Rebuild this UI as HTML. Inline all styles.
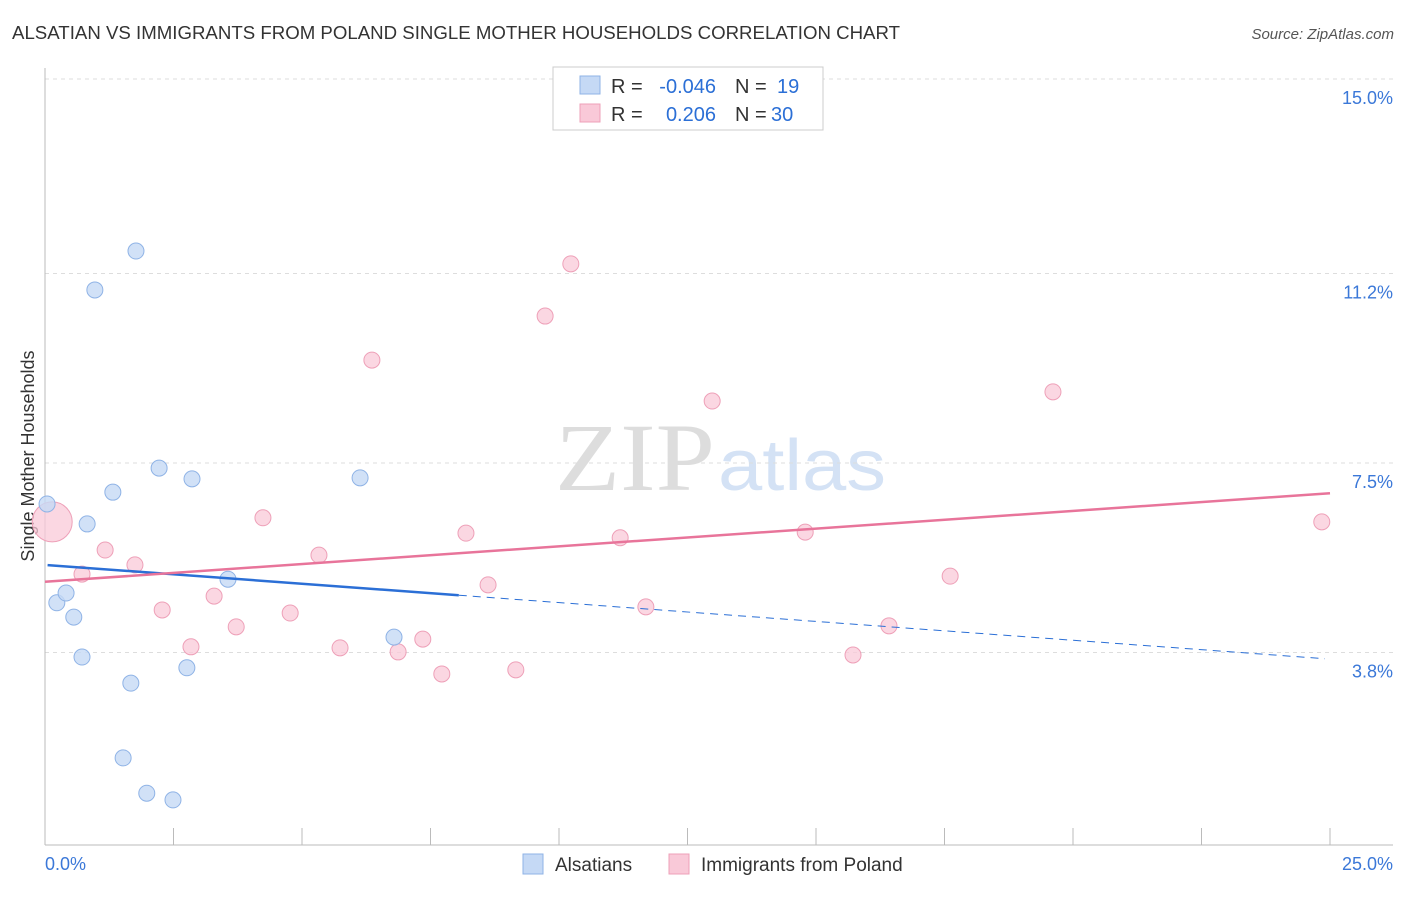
<!DOCTYPE html>
<html><head><meta charset="utf-8"><style>
body{margin:0;background:#fff;font-family:"Liberation Sans",sans-serif}
</style></head><body>
<svg id="c" width="1406" height="892" font-family="Liberation Sans, sans-serif">
<text x="12" y="39" font-size="18" fill="#333" textLength="888" lengthAdjust="spacingAndGlyphs">ALSATIAN VS IMMIGRANTS FROM POLAND SINGLE MOTHER HOUSEHOLDS CORRELATION CHART</text>
<text x="1394" y="39" font-size="15" fill="#555" text-anchor="end" font-style="italic">Source: ZipAtlas.com</text>
<text x="555" y="490" font-size="96" fill="#ddd" style="font-family:'Liberation Serif',serif" textLength="160" lengthAdjust="spacingAndGlyphs">ZIP</text>
<text x="718" y="490" font-size="72" fill="#d4e2f5" textLength="168" lengthAdjust="spacingAndGlyphs">atlas</text>
<text transform="translate(34,456) rotate(-90)" font-size="18" fill="#333" text-anchor="middle">Single Mother Households</text>
<g id="grid"></g><g id="marks"></g>
<g>
<rect x="553" y="67" width="270" height="63" fill="#fff" stroke="#ccc"/>
<rect x="580" y="76" width="20" height="18" fill="#c5d9f5" stroke="#8fb3e6"/>
<rect x="580" y="104" width="20" height="18" fill="#f9c9d8" stroke="#eea0b8"/>
<text x="611" y="93" font-size="20" fill="#333">R =</text>
<text x="716" y="93" font-size="20" fill="#2b6fd6" text-anchor="end">-0.046</text>
<text x="735" y="93" font-size="20" fill="#333">N =</text>
<text x="777" y="93" font-size="20" fill="#2b6fd6">19</text>
<text x="611" y="121" font-size="20" fill="#333">R =</text>
<text x="716" y="121" font-size="20" fill="#2b6fd6" text-anchor="end">0.206</text>
<text x="735" y="121" font-size="20" fill="#333">N =</text>
<text x="771" y="121" font-size="20" fill="#2b6fd6">30</text>
</g>
<g>
<rect x="523" y="854" width="20" height="20" fill="#c5d9f5" stroke="#8fb3e6"/>
<text x="555" y="871" font-size="19" fill="#333">Alsatians</text>
<rect x="669" y="854" width="20" height="20" fill="#f9c9d8" stroke="#eea0b8"/>
<text x="701" y="871" font-size="19" fill="#333">Immigrants from Poland</text>
</g>
</svg>
<script>
const xTicks=[0,2.5,5,7.5,10,12.5,15,17.5,20,22.5,25];
const yTicks=[15.0,11.2,7.5,3.8];
const yTickLabels=["15.0%","11.2%","7.5%","3.8%"];
const blueX=[0.04,0.23,0.41,0.56,0.72,0.82,0.97,1.32,1.52,1.67,1.77,1.98,2.22,2.49,2.76,2.86,3.56,6.13,6.79];
const blueY=[6.70,4.77,4.96,4.49,3.71,6.31,10.88,6.93,1.74,3.20,11.64,1.05,7.40,0.92,3.50,7.19,5.23,7.21,4.10];
const pinkX=[0.14,0.72,1.17,1.75,2.28,2.84,3.29,3.72,4.24,4.77,5.33,5.74,6.36,6.87,7.35,7.72,8.19,8.62,9.16,9.73,10.23,11.19,11.69,12.98,14.79,15.72,16.42,17.61,19.61,24.84];
const pinkY=[6.35,5.33,5.80,5.51,4.63,3.91,4.90,4.30,6.43,4.57,5.70,3.89,9.51,3.81,4.06,3.38,6.13,5.12,3.46,10.37,11.39,6.04,4.69,8.71,6.15,3.75,4.32,5.29,8.89,6.35];
const blueLine=[5.51,3.67];const pinkLine=[5.18,6.91];
const NS="http://www.w3.org/2000/svg";
const X=v=>45+v/25*1285, Y=v=>79+(15-v)*51.2;
function mk(p,t,a){const e=document.createElementNS(NS,t);for(const k in a)e.setAttribute(k,a[k]);p.appendChild(e);return e;}
const g=document.getElementById('grid'),m=document.getElementById('marks');
yTicks.forEach((t,i)=>{const l=mk(g,'line',{x1:45,x2:1393,y1:Y(t),y2:Y(t),stroke:'#ddd','stroke-dasharray':'4,4'});

const tx=mk(g,'text',{x:1393,y:Y(t)+25,'font-size':18,fill:'#3b78d8','text-anchor':'end'});tx.textContent=yTickLabels[i];
});
const ax=mk(g,'line',{x1:45,x2:1393,y1:845,y2:845,stroke:'#bbb'});
const ay=mk(g,'line',{x1:45,x2:45,y1:68,y2:845,stroke:'#bbb'});
xTicks.forEach(t=>{const l=mk(g,'line',{x1:X(t),x2:X(t),y1:828,y2:845,stroke:'#bbb'});});
let t1=mk(g,'text',{x:45,y:870,'font-size':18,fill:'#3b78d8'});t1.textContent="0.0%";
let t2=mk(g,'text',{x:1393,y:870,'font-size':18,fill:'#3b78d8','text-anchor':'end'});t2.textContent="25.0%";
pinkX.forEach((x,i)=>{const c=mk(m,'circle',{cx:X(x),cy:Y(pinkY[i]),r:i==0?20:8,fill:'#f9c9d8','fill-opacity':0.75,stroke:'#eea0b8'});
});
blueX.forEach((x,i)=>{const c=mk(m,'circle',{cx:X(x),cy:Y(blueY[i]),r:8,fill:'#c5d9f5','fill-opacity':0.8,stroke:'#8fb3e6'});
});
const by=x=>blueLine[0]+(blueLine[1]-blueLine[0])*x/25;
let l1=mk(m,'line',{x1:X(0.05),y1:Y(by(0.05)),x2:X(8.05),y2:Y(by(8.05)),stroke:'#2b6fd6','stroke-width':2.5});
let l2=mk(m,'line',{x1:X(8.05),y1:Y(by(8.05)),x2:X(24.9),y2:Y(by(24.9)),stroke:'#2b6fd6','stroke-width':1,'stroke-dasharray':'8,6'});
let l3=mk(m,'line',{x1:X(0),y1:Y(pinkLine[0]),x2:X(25),y2:Y(pinkLine[1]),stroke:'#e8749a','stroke-width':2.5});
</script>
</body></html>
